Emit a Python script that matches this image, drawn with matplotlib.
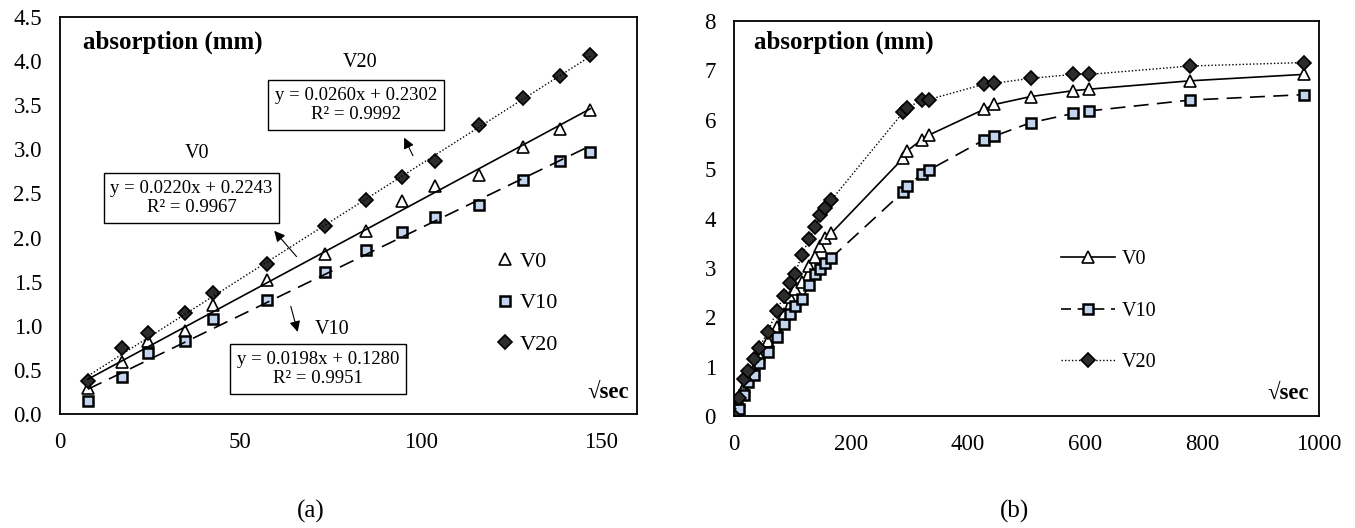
import numpy as np
import matplotlib
matplotlib.use('Agg')
import matplotlib.pyplot as plt
from matplotlib.ticker import FormatStrFormatter
from matplotlib.lines import Line2D

plt.rcParams['font.family'] = ['Liberation Serif', 'DejaVu Serif']

# sqrt(time) readings, first test series (a)
xa = [7.75, 17.3, 24.5, 34.6, 42.4, 57.5, 73.5, 84.9, 94.9, 103.9, 116.2, 128.5, 138.6, 147.0]
v0_a = [0.30, 0.59, 0.83, 0.94, 1.23, 1.52, 1.81, 2.07, 2.41, 2.58, 2.71, 3.03, 3.23, 3.45]
v10_a = [0.145, 0.42, 0.69, 0.83, 1.08, 1.29, 1.61, 1.86, 2.06, 2.23, 2.37, 2.65, 2.87, 2.97]
v20_a = [0.37, 0.75, 0.92, 1.15, 1.37, 1.70, 2.13, 2.43, 2.69, 2.87, 3.27, 3.58, 3.83, 4.07]

# linear fits (slope, intercept, R2)
fit_v0 = (0.0220, 0.2243, 0.9967)
fit_v10 = (0.0198, 0.1280, 0.9951)
fit_v20 = (0.0260, 0.2302, 0.9992)

# full test duration (b)
xb_extra = [155.0, 166.0, 289.0, 296.0, 321.0, 333.0, 427.0, 445.0, 507.0, 580.0, 607.0, 780.0, 974.0]
v0_extra = [3.60, 3.70, 5.22, 5.37, 5.60, 5.69, 6.21, 6.31, 6.47, 6.59, 6.62, 6.79, 6.92]
v10_extra = [3.10, 3.20, 4.54, 4.66, 4.90, 4.98, 5.59, 5.67, 5.94, 6.13, 6.18, 6.40, 6.51]
v20_extra = [4.21, 4.37, 6.15, 6.24, 6.40, 6.41, 6.72, 6.74, 6.84, 6.92, 6.92, 7.09, 7.16]

xb = [0.0] + xa + xb_extra
v0_b = [0.0] + v0_a + v0_extra
v10_b = [0.0] + v10_a + v10_extra
v20_b = [0.0] + v20_a + v20_extra

labels = ['V0', 'V10', 'V20']

tri = dict(marker='^', ms=8, mfc='white', mec='black', mew=1.2)
sq = dict(marker='s', ms=7, mfc='#c3d5ee', mec='black', mew=1.8)
dia = dict(marker='D', ms=7, mfc='#2c2c2c', mec='black', mew=1.2)

fig = plt.figure(figsize=(13.55, 5.28), dpi=100)
ax1 = fig.add_axes([0.0443, 0.2159, 0.4258, 0.752])
ax2 = fig.add_axes([0.5417, 0.2121, 0.4317, 0.748])

for ax in (ax1, ax2):
    for s in ax.spines.values():
        s.set_linewidth(1.3)
    ax.tick_params(length=0, labelsize=16.5, pad=13)

# ---- (a) ----
ax1.plot(xa, v0_a, ls='none', **tri)
ax1.plot(xa, v10_a, ls='none', **sq)
ax1.plot(xa, v20_a, ls='none', **dia)

xl = np.array([min(xa), max(xa)])
ax1.plot(xl, fit_v0[0] * xl + fit_v0[1], color='black', lw=1.2, ls='-')
ax1.plot(xl, fit_v10[0] * xl + fit_v10[1], color='black', lw=1.2, ls=(0, (9, 5)))
ax1.plot(xl, fit_v20[0] * xl + fit_v20[1], color='black', lw=1.0, ls=(0, (1, 1.5)))

ax1.set_xlim(0, 160)
ax1.set_ylim(0, 4.5)
ax1.set_xticks([0, 50, 100, 150])
ax1.set_yticks(np.arange(0, 4.51, 0.5))
ax1.yaxis.set_major_formatter(FormatStrFormatter('%.1f'))

ax1.text(6.5, 4.21, 'absorption (mm)', fontsize=18, fontweight='bold', va='center')
ax1.text(152, 0.25, '√sec', fontsize=16.5, fontweight='bold', ha='center', va='center')

box = dict(boxstyle='square,pad=0.35', fc='white', ec='black', lw=1.0)
for name, fit, lx, ly, bx, by in [('V20', fit_v20, 83.2, 3.98, 82.1, 3.50),
                                  ('V0', fit_v0, 38.1, 2.95, 36.5, 2.45),
                                  ('V10', fit_v10, 75.4, 0.96, 71.6, 0.51)]:
    ax1.text(lx, ly, name, fontsize=14.5, ha='center', va='center')
    ax1.text(bx, by, 'y = %.4fx + %.4f\nR² = %.4f' % fit, fontsize=13.5,
             ha='center', va='center', multialignment='center', linespacing=1.2, bbox=box)

arrow = dict(arrowstyle='-|>', color='black', lw=0.8, mutation_scale=16)
ax1.annotate('', xy=(95.1, 3.16), xytext=(98.2, 2.90), arrowprops=arrow)
ax1.annotate('', xy=(58.9, 2.10), xytext=(66.1, 1.76), arrowprops=arrow)
ax1.annotate('', xy=(66.1, 0.90), xytext=(63.8, 1.25), arrowprops=arrow)

h_a = [Line2D([], [], ls='none', **tri), Line2D([], [], ls='none', **sq),
       Line2D([], [], ls='none', **dia)]
ax1.legend(h_a, labels, loc='center left', bbox_to_anchor=(486 / 1355, 1 - 303 / 528),
           bbox_transform=fig.transFigure, frameon=False, fontsize=16,
           handlelength=0.7, handletextpad=0.3, labelspacing=0.95, borderpad=0)

# ---- (b) ----
ax2.plot(xb, v0_b, color='black', lw=1.2, ls='-', **tri)
ax2.plot(xb, v10_b, color='black', lw=1.2, ls=(0, (9, 5)), **sq)
ax2.plot(xb, v20_b, color='black', lw=1.0, ls=(0, (1, 1.5)), **dia)

ax2.set_xlim(0, 1000)
ax2.set_ylim(0, 8)
ax2.set_xticks(np.arange(0, 1001, 200))
ax2.set_yticks(np.arange(0, 9, 1))

ax2.text(34, 7.57, 'absorption (mm)', fontsize=18, fontweight='bold', va='center')
ax2.text(948, 0.47, '√sec', fontsize=16.5, fontweight='bold', ha='center', va='center')

h_b = [Line2D([], [], color='black', lw=1.2, ls='-', **tri),
       Line2D([], [], color='black', lw=1.2, ls=(0, (6, 4)), **sq),
       Line2D([], [], color='black', lw=1.0, ls=(0, (1, 1.5)), **dia)]
ax2.legend(h_b, labels, loc='center left', bbox_to_anchor=(1051 / 1355, 1 - 311 / 528),
           bbox_transform=fig.transFigure, frameon=False, fontsize=14.5,
           handlelength=2.7, handletextpad=0.33, labelspacing=1.6, borderpad=0)

fig.text(311 / 1355, 1 - 511 / 528, '(a)', fontsize=18, ha='center', va='center')
fig.text(1015 / 1355, 1 - 511 / 528, '(b)', fontsize=18, ha='center', va='center')

fig.savefig('out.png', dpi=100)
